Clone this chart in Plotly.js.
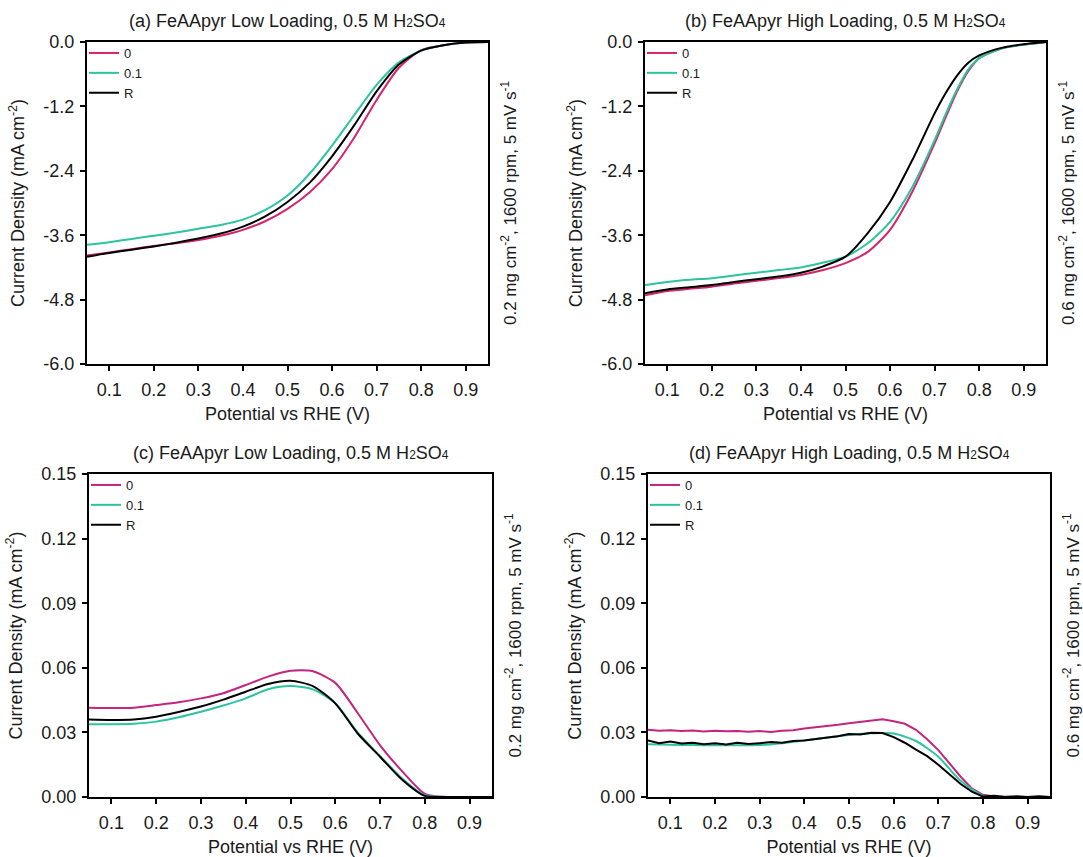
<!DOCTYPE html>
<html>
<head>
<meta charset="utf-8">
<script src="https://cdn.plot.ly/plotly-3.0.1.min.js"></script>
<style>html,body{margin:0;padding:0;background:#fff;}#chart{width:1083px;height:857px;}</style>
</head>
<body>
<div id="chart"></div>
<script>
// ---------- data ----------
const seriesNames = ['0', '0.1', 'R'];
const xTickVals = [0.1, 0.2, 0.3, 0.4, 0.5, 0.6, 0.7, 0.8, 0.9];
const xTickText = ['0.1', '0.2', '0.3', '0.4', '0.5', '0.6', '0.7', '0.8', '0.9'];
const lsvTickVals = [0, -1.2, -2.4, -3.6, -4.8, -6.0];
const lsvTickText = ['0.0', '-1.2', '-2.4', '-3.6', '-4.8', '-6.0'];
const ringTickVals = [0.15, 0.12, 0.09, 0.06, 0.03, 0.0];
const ringTickText = ['0.15', '0.12', '0.09', '0.06', '0.03', '0.00'];

const panelTitles = [
  '(a) FeAApyr Low Loading, 0.5 M H<span style="font-size:12px">2</span>SO<span style="font-size:12px">4</span>',
  '(b) FeAApyr High Loading, 0.5 M H<span style="font-size:12px">2</span>SO<span style="font-size:12px">4</span>',
  '(c) FeAApyr Low Loading, 0.5 M H<span style="font-size:12px">2</span>SO<span style="font-size:12px">4</span>',
  '(d) FeAApyr High Loading, 0.5 M H<span style="font-size:12px">2</span>SO<span style="font-size:12px">4</span>'
];
const sideLabels = [
  '0.2 mg cm<sup>-2</sup>, 1600 rpm, 5 mV s<sup>-1</sup>',
  '0.6 mg cm<sup>-2</sup>, 1600 rpm, 5 mV s<sup>-1</sup>',
  '0.2 mg cm<sup>-2</sup>, 1600 rpm, 5 mV s<sup>-1</sup>',
  '0.6 mg cm<sup>-2</sup>, 1600 rpm, 5 mV s<sup>-1</sup>'
];

// potentials (V vs RHE)
const potential = [0.05, 0.1, 0.15, 0.2, 0.25, 0.3, 0.35, 0.4, 0.45, 0.5, 0.55, 0.6, 0.65, 0.7, 0.75, 0.8, 0.85, 0.9, 0.95];
const potentialB = [0.05, 0.1, 0.15, 0.2, 0.25, 0.3, 0.35, 0.4, 0.45, 0.5, 0.55, 0.6, 0.65, 0.7, 0.725, 0.75, 0.775, 0.8, 0.85, 0.9, 0.95];
const potentialFine = [0.05, 0.075, 0.1, 0.125, 0.15, 0.175, 0.2, 0.225, 0.25, 0.275, 0.3, 0.325, 0.35, 0.375, 0.4, 0.425, 0.45, 0.475, 0.5, 0.525, 0.55, 0.575, 0.6, 0.625, 0.65, 0.675, 0.7, 0.725, 0.75, 0.775, 0.8, 0.825, 0.85, 0.875, 0.9, 0.925, 0.95];

// (a) low loading disk current
const a_0   = [-3.98, -3.92, -3.86, -3.80, -3.75, -3.69, -3.61, -3.50, -3.34, -3.11, -2.80, -2.37, -1.78, -1.08, -0.48, -0.15, -0.06, -0.01, 0];
const a_01  = [-3.78, -3.73, -3.67, -3.61, -3.55, -3.48, -3.41, -3.31, -3.13, -2.86, -2.45, -1.93, -1.36, -0.80, -0.38, -0.16, -0.06, -0.01, 0];
const a_R   = [-4.00, -3.93, -3.87, -3.81, -3.74, -3.66, -3.57, -3.44, -3.25, -2.98, -2.62, -2.13, -1.55, -0.92, -0.42, -0.16, -0.06, -0.01, 0];

// (b) high loading disk current
const b_0   = [-4.72, -4.64, -4.60, -4.56, -4.50, -4.45, -4.40, -4.34, -4.25, -4.12, -3.91, -3.50, -2.79, -1.89, -1.40, -0.93, -0.55, -0.30, -0.12, -0.05, 0];
const b_01  = [-4.53, -4.47, -4.43, -4.40, -4.35, -4.30, -4.25, -4.20, -4.11, -4.00, -3.75, -3.35, -2.70, -1.83, -1.34, -0.89, -0.52, -0.30, -0.12, -0.05, 0];
const b_R   = [-4.68, -4.61, -4.57, -4.53, -4.47, -4.42, -4.37, -4.30, -4.18, -4.00, -3.56, -2.98, -2.20, -1.33, -0.95, -0.63, -0.39, -0.25, -0.11, -0.04, 0];

// (c) low loading ring current
const c_0   = [0.0415, 0.0413, 0.0415, 0.0427, 0.0440, 0.0458, 0.0482, 0.0520, 0.0559, 0.0586, 0.0584, 0.0530, 0.0390, 0.0240, 0.0118, 0.0015, 0, 0, 0];
const c_01  = [0.0338, 0.0338, 0.0340, 0.0350, 0.0370, 0.0396, 0.0425, 0.0458, 0.0500, 0.0515, 0.0500, 0.0435, 0.0300, 0.0190, 0.0085, 0.0008, 0, 0, 0];
const c_R   = [0.0360, 0.0358, 0.0360, 0.0373, 0.0395, 0.0420, 0.0452, 0.0489, 0.0525, 0.0540, 0.0515, 0.0435, 0.0295, 0.0187, 0.0079, 0.0005, 0, 0, 0];

// (d) high loading ring current
const d_0   = [0.0312, 0.0308, 0.0310, 0.0306, 0.0309, 0.0304, 0.0308, 0.0305, 0.0307, 0.0303, 0.0306, 0.0302, 0.0308, 0.0310, 0.0318, 0.0323, 0.0330, 0.0335, 0.0342, 0.0348, 0.0356, 0.0361, 0.0352, 0.0340, 0.0312, 0.0268, 0.0218, 0.0155, 0.0094, 0.0040, 0.0010, 0.0002, 0, 0, 0, 0, 0];
const d_01  = [0.0245, 0.0243, 0.0241, 0.0240, 0.0240, 0.0241, 0.0250, 0.0263, 0.0276, 0.0288, 0.0296, 0.0295, 0.0260, 0.0187, 0.0075, 0.0006, 0, 0, 0];
const d_R   = [0.0262, 0.0250, 0.0258, 0.0248, 0.0252, 0.0245, 0.0250, 0.0244, 0.0252, 0.0246, 0.0250, 0.0255, 0.0252, 0.0260, 0.0262, 0.0268, 0.0275, 0.0282, 0.0292, 0.0290, 0.0298, 0.0297, 0.0278, 0.0252, 0.0220, 0.0190, 0.0150, 0.0105, 0.0060, 0.0025, 0.0002, 0.0006, 0, 0.0004, 0, 0.0003, 0];

// ---------- styling ----------
const W = 1083, H = 857;
const FONT = 'Liberation Sans, Arial, sans-serif';
const colMag = '#d6246c', colMag2 = '#c4247e', colTeal = '#2cc49e', colBlk = '#000000';

// pixel boxes [left, right, top, bottom]
const boxes = [[87, 488, 42, 364], [645, 1046, 42, 364], [89, 492, 474, 797], [648, 1050, 474, 797]];

const traces = [];
function addSet(i, xs0, ys0, xs1, ys1, xs2, ys2, magColor, shape) {
  const ax = i === 0 ? '' : String(i + 1);
  const leg = i === 0 ? 'legend' : 'legend' + (i + 1);
  const sets = [[xs0, ys0, magColor, seriesNames[0]], [xs1, ys1, colTeal, seriesNames[1]], [xs2, ys2, colBlk, seriesNames[2]]];
  sets.forEach((s, k) => {
    traces.push({
      x: s[0], y: s[1], name: s[3], type: 'scatter', mode: 'lines',
      line: {color: s[2], width: 2, shape: shape[k], smoothing: 0.7},
      xaxis: 'x' + ax, yaxis: 'y' + ax, legend: leg
    });
  });
}
addSet(0, potential, a_0, potential, a_01, potential, a_R, colMag, ['spline', 'spline', 'spline']);
addSet(1, potentialB, b_0, potentialB, b_01, potentialB, b_R, colMag, ['spline', 'spline', 'spline']);
addSet(2, potential, c_0, potential, c_01, potential, c_R, colMag2, ['spline', 'spline', 'spline']);
addSet(3, potentialFine, d_0, potential, d_01, potentialFine, d_R, colMag2, ['linear', 'spline', 'linear']);

const layout = {
  width: W, height: H,
  margin: {l: 0, r: 0, t: 0, b: 0},
  paper_bgcolor: '#ffffff', plot_bgcolor: '#ffffff',
  font: {family: FONT, size: 18, color: '#1a1a1a'},
  annotations: []
};

function axisBase() {
  return {
    showline: true, linecolor: '#000', linewidth: 2, mirror: true,
    ticks: 'outside', ticklen: 5, tickwidth: 2, tickcolor: '#000',
    showgrid: false, zeroline: false, fixedrange: true,
    tickfont: {family: FONT, size: 18, color: '#1a1a1a'}
  };
}

boxes.forEach((b, i) => {
  const ax = i === 0 ? '' : String(i + 1);
  const xa = axisBase(), ya = axisBase();
  xa.domain = [b[0] / W, b[1] / W];
  xa.range = [0.05, 0.95];
  xa.tickmode = 'array'; xa.tickvals = xTickVals; xa.ticktext = xTickText;
  xa.anchor = 'y' + ax;
  xa.ticklabelstandoff = 3;
  xa.title = {text: 'Potential vs RHE (V)', font: {family: FONT, size: 18, color: '#1a1a1a'}, standoff: 9};
  ya.domain = [1 - b[3] / H, 1 - b[2] / H];
  ya.anchor = 'x' + ax;
  ya.tickmode = 'array';
  if (i < 2) { ya.range = [-6.0, 0.0]; ya.tickvals = lsvTickVals; ya.ticktext = lsvTickText; }
  else { ya.range = [0.0, 0.15]; ya.tickvals = ringTickVals; ya.ticktext = ringTickText; }
  ya.ticklabelstandoff = 2;
  ya.title = {text: 'Current Density (mA cm<sup>-2</sup>)', font: {family: FONT, size: 18, color: '#1a1a1a'}, standoff: 14};
  layout['xaxis' + ax] = xa;
  layout['yaxis' + ax] = ya;

  layout[i === 0 ? 'legend' : 'legend' + (i + 1)] = {
    x: (b[0] - 3) / W, y: 1 - (b[2] - 4) / H, xanchor: 'left', yanchor: 'top',
    bgcolor: 'rgba(0,0,0,0)', borderwidth: 0,
    font: {family: FONT, size: 13, color: '#1a1a1a'},
    itemwidth: 30, tracegroupgap: 0
  };

  layout.annotations.push({
    xref: 'paper', yref: 'paper', x: (b[0] + b[1]) / 2 / W, y: 1 - (b[2] - 21) / H,
    xanchor: 'center', yanchor: 'middle', showarrow: false,
    text: panelTitles[i], font: {family: FONT, size: 18, color: '#1a1a1a'}
  });
  layout.annotations.push({
    xref: 'paper', yref: 'paper', x: (b[1] + 21) / W, y: 1 - (b[2] + b[3]) / 2 / H,
    xanchor: 'center', yanchor: 'middle', showarrow: false, textangle: -90,
    text: sideLabels[i], font: {family: FONT, size: 17, color: '#1a1a1a'}
  });
});

Plotly.newPlot('chart', traces, layout, {staticPlot: true, displayModeBar: false});
</script>
</body>
</html>
